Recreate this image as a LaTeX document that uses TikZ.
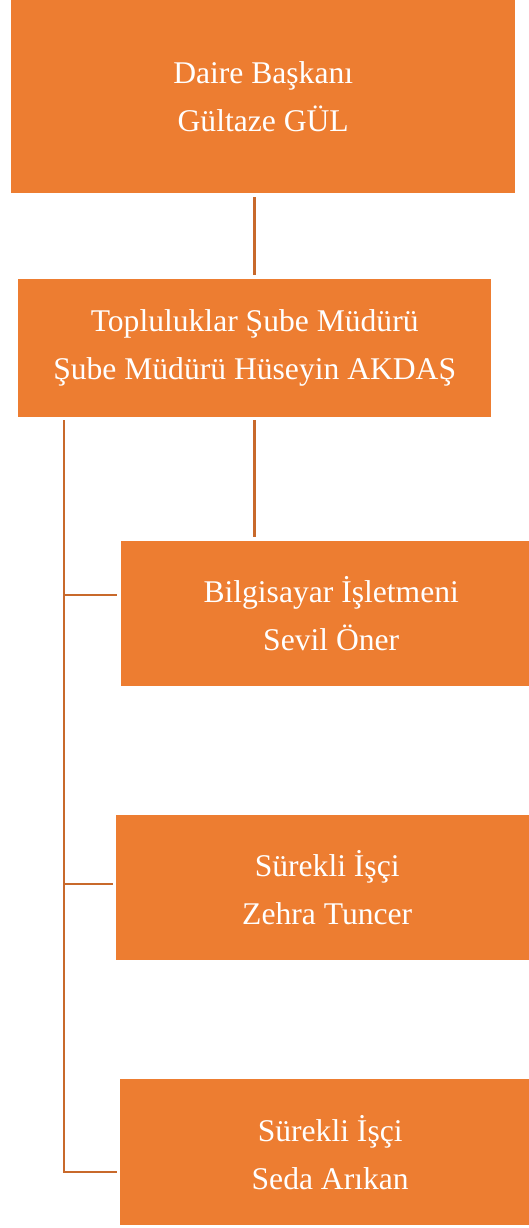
\documentclass[tikz,border=0pt]{standalone}
\usepackage{fontspec}
\setmainfont{Liberation Serif}
\usetikzlibrary{positioning,calc}
\definecolor{Turuncu}{HTML}{ED7D31}
\definecolor{Cizgi}{HTML}{C8692B}

\begin{document}
\begin{tikzpicture}[x=1pt,y=-1pt,
kutu/.style={fill=Turuncu,text=white,align=center,inner sep=0pt,anchor=north west,font=\fontsize{31.6}{48}\selectfont},
baglanti/.style={draw=Cizgi,line width=2.5pt}]
\useasboundingbox (0,0) rectangle (528,1228);
% kutular
\node[kutu,minimum width=504,minimum height=193] (baskan) at (11,0) {Daire Başkanı\\Gültaze GÜL};
\node[kutu,minimum width=473,minimum height=138] (sube) at (18,279) {Topluluklar Şube Müdürü\\Şube Müdürü Hüseyin AKDAŞ};
\node[kutu,minimum width=420,minimum height=145] (bilg) at (121,541) {Bilgisayar İşletmeni\\Sevil Öner};
\node[kutu,minimum width=422,minimum height=145] (isci1) at (116,815) {Sürekli İşçi\\Zehra Tuncer};
\node[kutu,minimum width=420,minimum height=146] (isci2) at (120,1079) {Sürekli İşçi\\Seda Arıkan};
% baglantilar
\coordinate (kol1) at (64,595);
\coordinate (kol2) at (64,884);
\coordinate (kol3) at (64,1172);
\draw[baglanti,shorten <=4pt,shorten >=4pt] (sube.north |- baskan.south) -- (sube.north);
\draw[baglanti,shorten <=3pt,shorten >=4pt] (sube.south) -- (sube.south |- bilg.north);
\draw[baglanti,shorten >=3pt] ($(kol1 |- sube.south)+(0,3)$) -- (kol3) -- (kol3 -| isci2.west);
\draw[baglanti,shorten >=4pt] (kol1) -- (kol1 -| bilg.west);
\draw[baglanti,shorten >=3pt] (kol2) -- (kol2 -| isci1.west);
\end{tikzpicture}
\end{document}
